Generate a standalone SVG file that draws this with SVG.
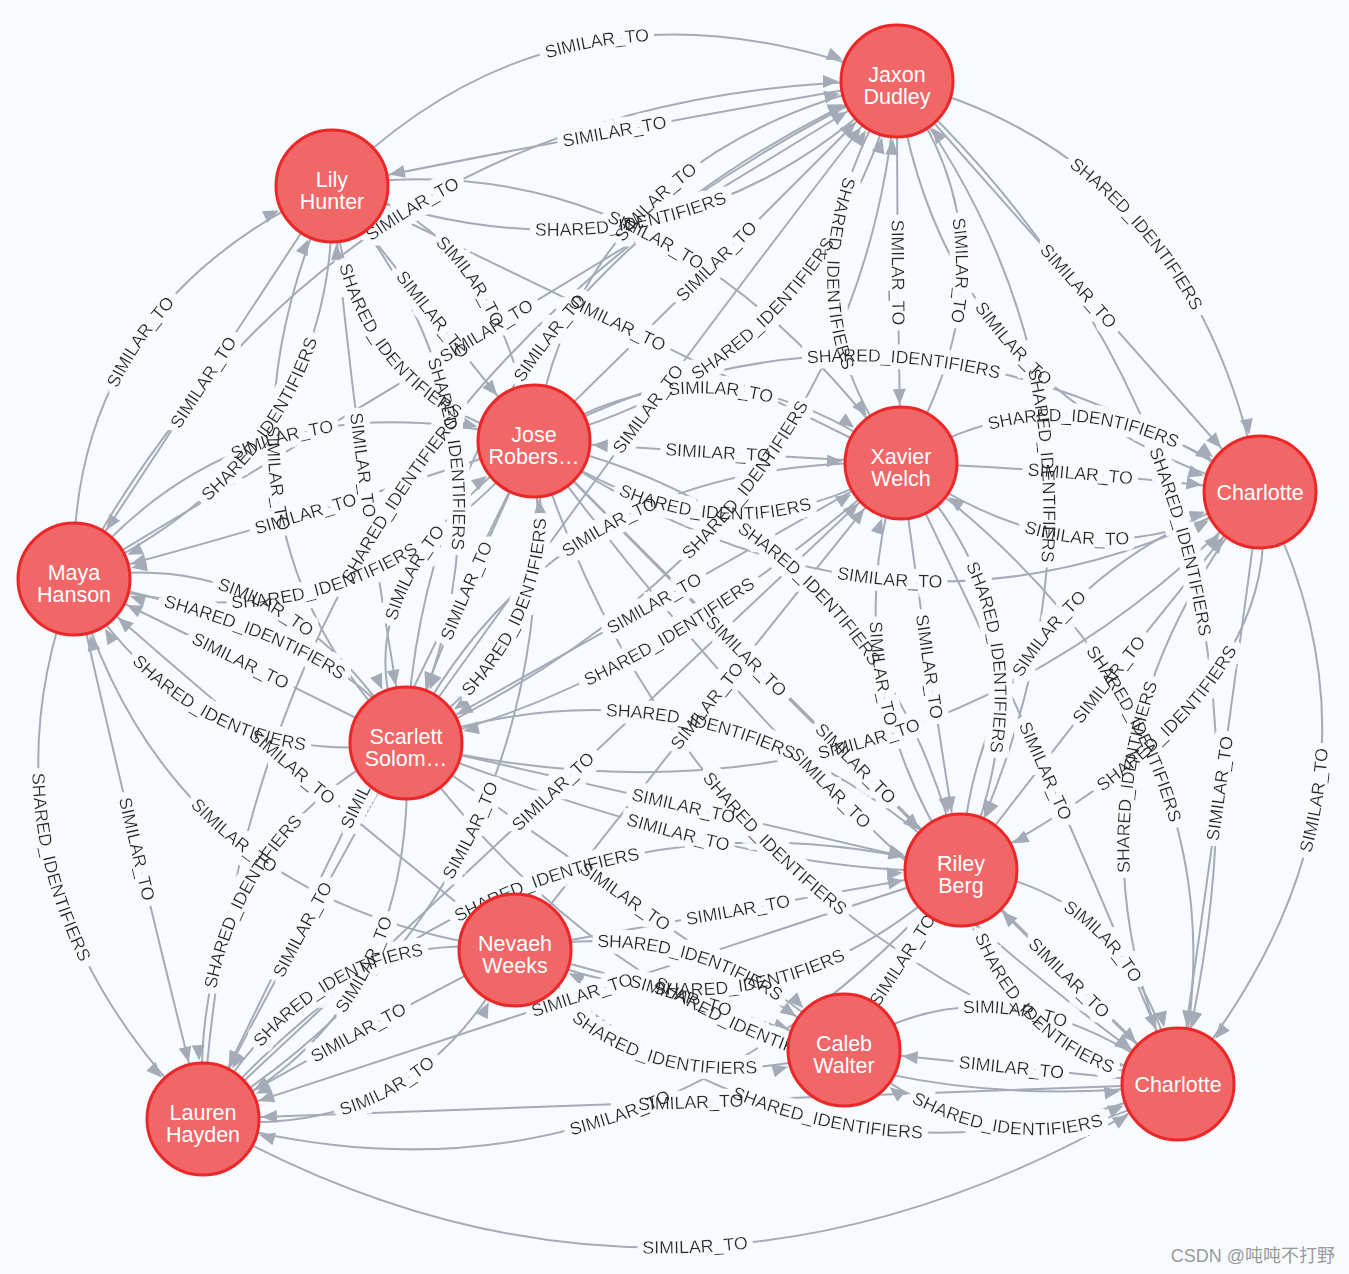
<svg xmlns="http://www.w3.org/2000/svg" xmlns:xlink="http://www.w3.org/1999/xlink" width="1349" height="1274" viewBox="0 0 1349 1274">
<style>
.e{fill:none;stroke:#a5abb6;stroke-width:2}
.te{marker-end:url(#ar)}
.ts{marker-start:url(#ar)}
.l{font-family:"Liberation Sans",Arial,sans-serif;font-size:17.8px;fill:#2a2a2a;dominant-baseline:central;text-anchor:middle}
.nc{fill:#f16667;stroke:#eb2728;stroke-width:3}
.nt{font-family:"Liberation Sans",Arial,sans-serif;font-size:21.5px;fill:#fff;text-anchor:middle}
</style>
<defs>
<marker id="ar" markerUnits="userSpaceOnUse" orient="auto-start-reverse" markerWidth="1" markerHeight="1" refX="0" refY="0" overflow="visible" style="overflow:visible"><path d="M-58.5,0L-74,-6.5L-74,6.5Z" fill="#a5abb6"/></marker>
<filter id="halo" filterUnits="userSpaceOnUse" x="0" y="0" width="1349" height="1274">
<feMorphology in="SourceAlpha" operator="dilate" radius="5.5" result="d"/>
<feFlood flood-color="#f7fbff" result="f"/>
<feComposite in="f" in2="d" operator="in" result="h"/>
<feMerge><feMergeNode in="h"/><feMergeNode in="SourceGraphic"/></feMerge>
</filter>
</defs>
<rect width="1349" height="1274" fill="#f7fbff"/>
<g id="connectors">
<path id="e1" class="e te" d="M332,186Q565.5,-49.5 897,81"/>
<path id="e2" class="e ts" d="M332,186Q629.5,126.5 897,81"/>
<path id="e3" class="e te" d="M332,186Q663.5,310.5 897,81"/>
<path id="e4" class="e te" d="M74,579Q340.5,84 897,81"/>
<path id="e5" class="e te" d="M74,579Q500.5,324 897,81"/>
<path id="e6" class="e te" d="M74,579Q67,307.5 332,186"/>
<path id="e7" class="e ts" d="M74,579Q211,371.5 332,186"/>
<path id="e8" class="e ts" d="M74,579Q341,457.5 332,186"/>
<path id="e9" class="e ts" d="M332,186Q185,515.5 406,743"/>
<path id="e10" class="e te" d="M332,186Q355,455.5 406,743"/>
<path id="e11" class="e te" d="M332,186Q541,435.5 406,743"/>
<path id="e12" class="e ts" d="M332,186Q347,396.5 534,441"/>
<path id="e13" class="e te" d="M332,186Q441,326.5 534,441"/>
<path id="e14" class="e te" d="M332,186Q493,216.5 534,441"/>
<path id="e15" class="e te" d="M332,186Q663.5,135.5 901,463"/>
<path id="e16" class="e ts" d="M332,186Q637.5,331.5 901,463"/>
<path id="e17" class="e te" d="M534,441Q580.5,151 897,81"/>
<path id="e18" class="e te" d="M534,441Q726.5,253 897,81"/>
<path id="e19" class="e te" d="M534,441Q820.5,371 897,81"/>
<path id="e20" class="e ts" d="M897,81Q767,288 901,463"/>
<path id="e21" class="e te" d="M897,81Q897,288 901,463"/>
<path id="e22" class="e ts" d="M897,81Q1025,252 901,463"/>
<path id="e23" class="e te" d="M897,81Q1197.5,157.5 1260,492"/>
<path id="e24" class="e te" d="M897,81Q1067.5,273.5 1260,492"/>
<path id="e25" class="e te" d="M897,81Q941.5,399.5 1260,492"/>
<path id="e26" class="e te" d="M897,81Q1165,438.5 961,870"/>
<path id="e27" class="e te" d="M406,743Q662.5,382 897,81"/>
<path id="e28" class="e te" d="M406,743Q428.5,284 897,81"/>
<path id="e29" class="e te" d="M406,743Q864.5,532 897,81"/>
<path id="e30" class="e te" d="M901,463Q1075.5,354.5 1260,492"/>
<path id="e31" class="e te" d="M901,463Q1065.5,468.5 1260,492"/>
<path id="e32" class="e ts" d="M901,463Q1089.5,598.5 1260,492"/>
<path id="e33" class="e te" d="M534,441Q897,247.5 1260,492"/>
<path id="e34" class="e te" d="M534,441Q716.5,324 901,463"/>
<path id="e35" class="e ts" d="M534,441Q732.5,454 901,463"/>
<path id="e36" class="e te" d="M534,441Q722.5,574 901,463"/>
<path id="e37" class="e te" d="M406,743Q552.5,453 901,463"/>
<path id="e38" class="e ts" d="M406,743Q666.5,597 901,463"/>
<path id="e39" class="e ts" d="M406,743Q642.5,693 901,463"/>
<path id="e40" class="e te" d="M406,743Q330,594 534,441"/>
<path id="e41" class="e ts" d="M406,743Q450,618 534,441"/>
<path id="e42" class="e ts" d="M406,743Q570,628 534,441"/>
<path id="e43" class="e te" d="M74,579Q244,368 534,441"/>
<path id="e44" class="e ts" d="M74,579Q320,514 534,441"/>
<path id="e45" class="e ts" d="M74,579Q350,664 534,441"/>
<path id="e46" class="e ts" d="M74,579Q280,539 406,743"/>
<path id="e47" class="e ts" d="M74,579Q250,665 406,743"/>
<path id="e48" class="e ts" d="M74,579Q196,775 406,743"/>
<path id="e49" class="e te" d="M74,579Q360,639 406,743"/>
<path id="e50" class="e ts" d="M74,579Q285.5,765.5 515,950"/>
<path id="e51" class="e ts" d="M74,579Q165.5,905.5 515,950"/>
<path id="e52" class="e te" d="M74,579Q131.5,835 203,1119"/>
<path id="e53" class="e te" d="M74,579Q-38.5,875 203,1119"/>
<path id="e54" class="e ts" d="M203,1119Q185.5,849 406,743"/>
<path id="e55" class="e ts" d="M203,1119Q305.5,919 406,743"/>
<path id="e56" class="e ts" d="M203,1119Q421.5,1015 406,743"/>
<path id="e57" class="e ts" d="M203,1119Q317,921.5 515,950"/>
<path id="e58" class="e ts" d="M203,1119Q367,1025.5 515,950"/>
<path id="e59" class="e te" d="M203,1119Q417,1145.5 515,950"/>
<path id="e60" class="e te" d="M203,1119Q685.5,1392.5 1178,1084"/>
<path id="e61" class="e ts" d="M203,1119Q709.5,1102.5 1178,1084"/>
<path id="e62" class="e ts" d="M203,1119Q582,995.5 961,870"/>
<path id="e63" class="e ts" d="M203,1119Q638,1241.5 961,870"/>
<path id="e64" class="e te" d="M515,950Q819.5,1227 1178,1084"/>
<path id="e65" class="e te" d="M515,950Q708.5,910 844,1050"/>
<path id="e66" class="e te" d="M515,950Q680.5,990 844,1050"/>
<path id="e67" class="e te" d="M515,950Q628.5,1114 844,1050"/>
<path id="e68" class="e ts" d="M515,950Q764,1058 961,870"/>
<path id="e69" class="e te" d="M515,950Q738,910 961,870"/>
<path id="e70" class="e te" d="M406,743Q698,1142.5 1178,1084"/>
<path id="e71" class="e te" d="M844,1050Q999,949 1178,1084"/>
<path id="e72" class="e ts" d="M844,1050Q1025,1069 1178,1084"/>
<path id="e73" class="e ts" d="M844,1050Q1015,1189 1178,1084"/>
<path id="e74" class="e te" d="M961,870Q1130.5,887 1178,1084"/>
<path id="e75" class="e ts" d="M961,870Q1076.5,987 1178,1084"/>
<path id="e76" class="e ts" d="M961,870Q1000.5,1059 1178,1084"/>
<path id="e77" class="e ts" d="M1178,1084Q1417,792 1260,492"/>
<path id="e78" class="e ts" d="M1178,1084Q1219,802 1260,492"/>
<path id="e79" class="e te" d="M1178,1084Q1037,772 1260,492"/>
<path id="e80" class="e te" d="M961,870Q973.5,595 1260,492"/>
<path id="e81" class="e te" d="M961,870Q1119.5,663 1260,492"/>
<path id="e82" class="e ts" d="M961,870Q1295.5,699 1260,492"/>
<path id="e83" class="e te" d="M897,81Q1328.5,483.5 1178,1084"/>
<path id="e84" class="e te" d="M901,463Q1063,629.5 961,870"/>
<path id="e85" class="e te" d="M901,463Q925,649.5 961,870"/>
<path id="e86" class="e ts" d="M901,463Q829,673.5 961,870"/>
<path id="e87" class="e te" d="M901,463Q1052.5,770.5 1178,1084"/>
<path id="e88" class="e te" d="M901,463Q1260.5,726.5 1178,1084"/>
<path id="e89" class="e te" d="M534,441Q736.5,648.5 961,870"/>
<path id="e90" class="e te" d="M534,441Q882.5,520.5 961,870"/>
<path id="e91" class="e te" d="M534,441Q864,773.5 1178,1084"/>
<path id="e92" class="e te" d="M534,441Q814,823.5 1178,1084"/>
<path id="e93" class="e te" d="M534,441Q684,927.5 1178,1084"/>
<path id="e94" class="e te" d="M406,743Q676.5,803.5 961,870"/>
<path id="e95" class="e te" d="M406,743Q756.5,879.5 961,870"/>
<path id="e96" class="e te" d="M406,743Q716.5,637.5 961,870"/>
<path id="e97" class="e te" d="M203,1119Q568,779 901,463"/>
<path id="e98" class="e te" d="M203,1119Q571.5,890 534,441"/>
<path id="e99" class="e te" d="M203,1119Q528,755.5 961,870"/>
<path id="e100" class="e ts" d="M203,1119Q368.5,780 534,441"/>
<path id="e101" class="e te" d="M203,1119Q246,390 897,81"/>
<path id="e102" class="e te" d="M515,950Q692,723.5 901,463"/>
<path id="e103" class="e te" d="M534,441Q897,693.5 1260,492"/>
<path id="e104" class="e te" d="M406,743Q907,862.5 1260,492"/>
<path id="e105" class="e te" d="M844,1050Q902.5,960 961,870"/>
<path id="e106" class="e te" d="M406,743Q625,896.5 844,1050"/>
</g>
<g id="labels" filter="url(#halo)">
<text class="l"><textPath href="#e1" startOffset="50%">SIMILAR_TO</textPath></text>
<text class="l"><textPath href="#e2" startOffset="50%">SIMILAR_TO</textPath></text>
<text class="l"><textPath href="#e3" startOffset="50%">SHARED_IDENTIFIERS</textPath></text>
<text class="l"><textPath href="#e4" startOffset="50%">SIMILAR_TO</textPath></text>
<text class="l"><textPath href="#e5" startOffset="50%">SIMILAR_TO</textPath></text>
<text class="l"><textPath href="#e6" startOffset="50%">SIMILAR_TO</textPath></text>
<text class="l"><textPath href="#e7" startOffset="50%">SIMILAR_TO</textPath></text>
<text class="l"><textPath href="#e8" startOffset="50%">SHARED_IDENTIFIERS</textPath></text>
<text class="l"><textPath href="#e9" startOffset="50%">SIMILAR_TO</textPath></text>
<text class="l"><textPath href="#e10" startOffset="50%">SIMILAR_TO</textPath></text>
<text class="l"><textPath href="#e11" startOffset="50%">SHARED_IDENTIFIERS</textPath></text>
<text class="l"><textPath href="#e12" startOffset="50%">SHARED_IDENTIFIERS</textPath></text>
<text class="l"><textPath href="#e13" startOffset="50%">SIMILAR_TO</textPath></text>
<text class="l"><textPath href="#e14" startOffset="50%">SIMILAR_TO</textPath></text>
<text class="l"><textPath href="#e15" startOffset="50%">SIMILAR_TO</textPath></text>
<text class="l"><textPath href="#e16" startOffset="50%">SIMILAR_TO</textPath></text>
<text class="l"><textPath href="#e17" startOffset="50%">SIMILAR_TO</textPath></text>
<text class="l"><textPath href="#e18" startOffset="50%">SIMILAR_TO</textPath></text>
<text class="l"><textPath href="#e19" startOffset="50%">SHARED_IDENTIFIERS</textPath></text>
<text class="l"><textPath href="#e20" startOffset="50%">SHARED_IDENTIFIERS</textPath></text>
<text class="l"><textPath href="#e21" startOffset="50%">SIMILAR_TO</textPath></text>
<text class="l"><textPath href="#e22" startOffset="50%">SIMILAR_TO</textPath></text>
<text class="l"><textPath href="#e23" startOffset="50%">SHARED_IDENTIFIERS</textPath></text>
<text class="l"><textPath href="#e24" startOffset="50%">SIMILAR_TO</textPath></text>
<text class="l"><textPath href="#e25" startOffset="50%">SIMILAR_TO</textPath></text>
<text class="l"><textPath href="#e26" startOffset="50%">SHARED_IDENTIFIERS</textPath></text>
<text class="l"><textPath href="#e27" startOffset="50%">SIMILAR_TO</textPath></text>
<text class="l"><textPath href="#e28" startOffset="50%">SIMILAR_TO</textPath></text>
<text class="l"><textPath href="#e29" startOffset="50%">SHARED_IDENTIFIERS</textPath></text>
<text class="l"><textPath href="#e30" startOffset="50%">SHARED_IDENTIFIERS</textPath></text>
<text class="l"><textPath href="#e31" startOffset="50%">SIMILAR_TO</textPath></text>
<text class="l"><textPath href="#e32" startOffset="50%">SIMILAR_TO</textPath></text>
<text class="l"><textPath href="#e33" startOffset="50%">SHARED_IDENTIFIERS</textPath></text>
<text class="l"><textPath href="#e34" startOffset="50%">SIMILAR_TO</textPath></text>
<text class="l"><textPath href="#e35" startOffset="50%">SIMILAR_TO</textPath></text>
<text class="l"><textPath href="#e36" startOffset="50%">SHARED_IDENTIFIERS</textPath></text>
<text class="l"><textPath href="#e37" startOffset="50%">SIMILAR_TO</textPath></text>
<text class="l"><textPath href="#e38" startOffset="50%">SIMILAR_TO</textPath></text>
<text class="l"><textPath href="#e39" startOffset="50%">SHARED_IDENTIFIERS</textPath></text>
<text class="l"><textPath href="#e40" startOffset="50%">SIMILAR_TO</textPath></text>
<text class="l"><textPath href="#e41" startOffset="50%">SIMILAR_TO</textPath></text>
<text class="l"><textPath href="#e42" startOffset="50%">SHARED_IDENTIFIERS</textPath></text>
<text class="l"><textPath href="#e43" startOffset="50%">SIMILAR_TO</textPath></text>
<text class="l"><textPath href="#e44" startOffset="50%">SIMILAR_TO</textPath></text>
<text class="l"><textPath href="#e45" startOffset="50%">SHARED_IDENTIFIERS</textPath></text>
<text class="l"><textPath href="#e46" startOffset="50%">SIMILAR_TO</textPath></text>
<text class="l"><textPath href="#e47" startOffset="50%">SIMILAR_TO</textPath></text>
<text class="l"><textPath href="#e48" startOffset="50%">SHARED_IDENTIFIERS</textPath></text>
<text class="l"><textPath href="#e49" startOffset="50%">SHARED_IDENTIFIERS</textPath></text>
<text class="l"><textPath href="#e50" startOffset="50%">SIMILAR_TO</textPath></text>
<text class="l"><textPath href="#e51" startOffset="50%">SIMILAR_TO</textPath></text>
<text class="l"><textPath href="#e52" startOffset="50%">SIMILAR_TO</textPath></text>
<text class="l"><textPath href="#e53" startOffset="50%">SHARED_IDENTIFIERS</textPath></text>
<text class="l"><textPath href="#e54" startOffset="50%">SHARED_IDENTIFIERS</textPath></text>
<text class="l"><textPath href="#e55" startOffset="50%">SIMILAR_TO</textPath></text>
<text class="l"><textPath href="#e56" startOffset="50%">SIMILAR_TO</textPath></text>
<text class="l"><textPath href="#e57" startOffset="50%">SHARED_IDENTIFIERS</textPath></text>
<text class="l"><textPath href="#e58" startOffset="50%">SIMILAR_TO</textPath></text>
<text class="l"><textPath href="#e59" startOffset="50%">SIMILAR_TO</textPath></text>
<text class="l"><textPath href="#e60" startOffset="50%">SIMILAR_TO</textPath></text>
<text class="l"><textPath href="#e61" startOffset="50%">SIMILAR_TO</textPath></text>
<text class="l"><textPath href="#e62" startOffset="50%">SIMILAR_TO</textPath></text>
<text class="l"><textPath href="#e63" startOffset="50%">SIMILAR_TO</textPath></text>
<text class="l"><textPath href="#e64" startOffset="50%">SHARED_IDENTIFIERS</textPath></text>
<text class="l"><textPath href="#e65" startOffset="50%">SHARED_IDENTIFIERS</textPath></text>
<text class="l"><textPath href="#e66" startOffset="50%">SIMILAR_TO</textPath></text>
<text class="l"><textPath href="#e67" startOffset="50%">SHARED_IDENTIFIERS</textPath></text>
<text class="l"><textPath href="#e68" startOffset="50%">SHARED_IDENTIFIERS</textPath></text>
<text class="l"><textPath href="#e69" startOffset="50%">SIMILAR_TO</textPath></text>
<text class="l"><textPath href="#e70" startOffset="50%">SHARED_IDENTIFIERS</textPath></text>
<text class="l"><textPath href="#e71" startOffset="50%">SIMILAR_TO</textPath></text>
<text class="l"><textPath href="#e72" startOffset="50%">SIMILAR_TO</textPath></text>
<text class="l"><textPath href="#e73" startOffset="50%">SHARED_IDENTIFIERS</textPath></text>
<text class="l"><textPath href="#e74" startOffset="50%">SIMILAR_TO</textPath></text>
<text class="l"><textPath href="#e75" startOffset="50%">SIMILAR_TO</textPath></text>
<text class="l"><textPath href="#e76" startOffset="50%">SHARED_IDENTIFIERS</textPath></text>
<text class="l"><textPath href="#e77" startOffset="50%">SIMILAR_TO</textPath></text>
<text class="l"><textPath href="#e78" startOffset="50%">SIMILAR_TO</textPath></text>
<text class="l"><textPath href="#e79" startOffset="50%">SHARED_IDENTIFIERS</textPath></text>
<text class="l"><textPath href="#e80" startOffset="50%">SIMILAR_TO</textPath></text>
<text class="l"><textPath href="#e81" startOffset="50%">SIMILAR_TO</textPath></text>
<text class="l"><textPath href="#e82" startOffset="50%">SHARED_IDENTIFIERS</textPath></text>
<text class="l"><textPath href="#e83" startOffset="50%">SHARED_IDENTIFIERS</textPath></text>
<text class="l"><textPath href="#e84" startOffset="50%">SHARED_IDENTIFIERS</textPath></text>
<text class="l"><textPath href="#e85" startOffset="50%">SIMILAR_TO</textPath></text>
<text class="l"><textPath href="#e86" startOffset="50%">SIMILAR_TO</textPath></text>
<text class="l"><textPath href="#e87" startOffset="50%">SIMILAR_TO</textPath></text>
<text class="l"><textPath href="#e88" startOffset="50%">SHARED_IDENTIFIERS</textPath></text>
<text class="l"><textPath href="#e89" startOffset="50%">SIMILAR_TO</textPath></text>
<text class="l"><textPath href="#e90" startOffset="50%">SHARED_IDENTIFIERS</textPath></text>
<text class="l"><textPath href="#e91" startOffset="50%">SIMILAR_TO</textPath></text>
<text class="l"><textPath href="#e92" startOffset="50%">SIMILAR_TO</textPath></text>
<text class="l"><textPath href="#e93" startOffset="50%">SHARED_IDENTIFIERS</textPath></text>
<text class="l"><textPath href="#e94" startOffset="50%">SIMILAR_TO</textPath></text>
<text class="l"><textPath href="#e95" startOffset="50%">SIMILAR_TO</textPath></text>
<text class="l"><textPath href="#e96" startOffset="50%">SHARED_IDENTIFIERS</textPath></text>
<text class="l"><textPath href="#e97" startOffset="50%">SIMILAR_TO</textPath></text>
<text class="l"><textPath href="#e98" startOffset="50%">SIMILAR_TO</textPath></text>
<text class="l"><textPath href="#e99" startOffset="50%">SHARED_IDENTIFIERS</textPath></text>
<text class="l"><textPath href="#e100" startOffset="50%">SIMILAR_TO</textPath></text>
<text class="l"><textPath href="#e101" startOffset="50%">SHARED_IDENTIFIERS</textPath></text>
<text class="l"><textPath href="#e102" startOffset="50%">SIMILAR_TO</textPath></text>
<text class="l"><textPath href="#e103" startOffset="50%">SIMILAR_TO</textPath></text>
<text class="l"><textPath href="#e104" startOffset="50%">SIMILAR_TO</textPath></text>
<text class="l"><textPath href="#e105" startOffset="50%">SIMILAR_TO</textPath></text>
<text class="l"><textPath href="#e106" startOffset="50%">SIMILAR_TO</textPath></text>
</g>
<g id="n-jaxon"><circle class="nc" cx="897" cy="81" r="56"/><text class="nt" x="897" y="82">Jaxon</text><text class="nt" x="897" y="104">Dudley</text></g>
<g id="n-lily"><circle class="nc" cx="332" cy="186" r="56"/><text class="nt" x="332" y="187">Lily</text><text class="nt" x="332" y="209">Hunter</text></g>
<g id="n-jose"><circle class="nc" cx="534" cy="441" r="56"/><text class="nt" x="534" y="442">Jose</text><text class="nt" x="534" y="464">Robers…</text></g>
<g id="n-xavier"><circle class="nc" cx="901" cy="463" r="56"/><text class="nt" x="901" y="464">Xavier</text><text class="nt" x="901" y="486">Welch</text></g>
<g id="n-charlotte1"><circle class="nc" cx="1260" cy="492" r="56"/><text class="nt" x="1260" y="500">Charlotte</text></g>
<g id="n-maya"><circle class="nc" cx="74" cy="579" r="56"/><text class="nt" x="74" y="580">Maya</text><text class="nt" x="74" y="602">Hanson</text></g>
<g id="n-scarlett"><circle class="nc" cx="406" cy="743" r="56"/><text class="nt" x="406" y="744">Scarlett</text><text class="nt" x="406" y="766">Solom…</text></g>
<g id="n-riley"><circle class="nc" cx="961" cy="870" r="56"/><text class="nt" x="961" y="871">Riley</text><text class="nt" x="961" y="893">Berg</text></g>
<g id="n-nevaeh"><circle class="nc" cx="515" cy="950" r="56"/><text class="nt" x="515" y="951">Nevaeh</text><text class="nt" x="515" y="973">Weeks</text></g>
<g id="n-caleb"><circle class="nc" cx="844" cy="1050" r="56"/><text class="nt" x="844" y="1051">Caleb</text><text class="nt" x="844" y="1073">Walter</text></g>
<g id="n-charlotte2"><circle class="nc" cx="1178" cy="1084" r="56"/><text class="nt" x="1178" y="1092">Charlotte</text></g>
<g id="n-lauren"><circle class="nc" cx="203" cy="1119" r="56"/><text class="nt" x="203" y="1120">Lauren</text><text class="nt" x="203" y="1142">Hayden</text></g>
<text x="1335" y="1262" text-anchor="end" font-family="'Liberation Sans','Noto Sans CJK SC',sans-serif" font-size="18" fill="#9a9a9a">CSDN @吨吨不打野</text>
</svg>
